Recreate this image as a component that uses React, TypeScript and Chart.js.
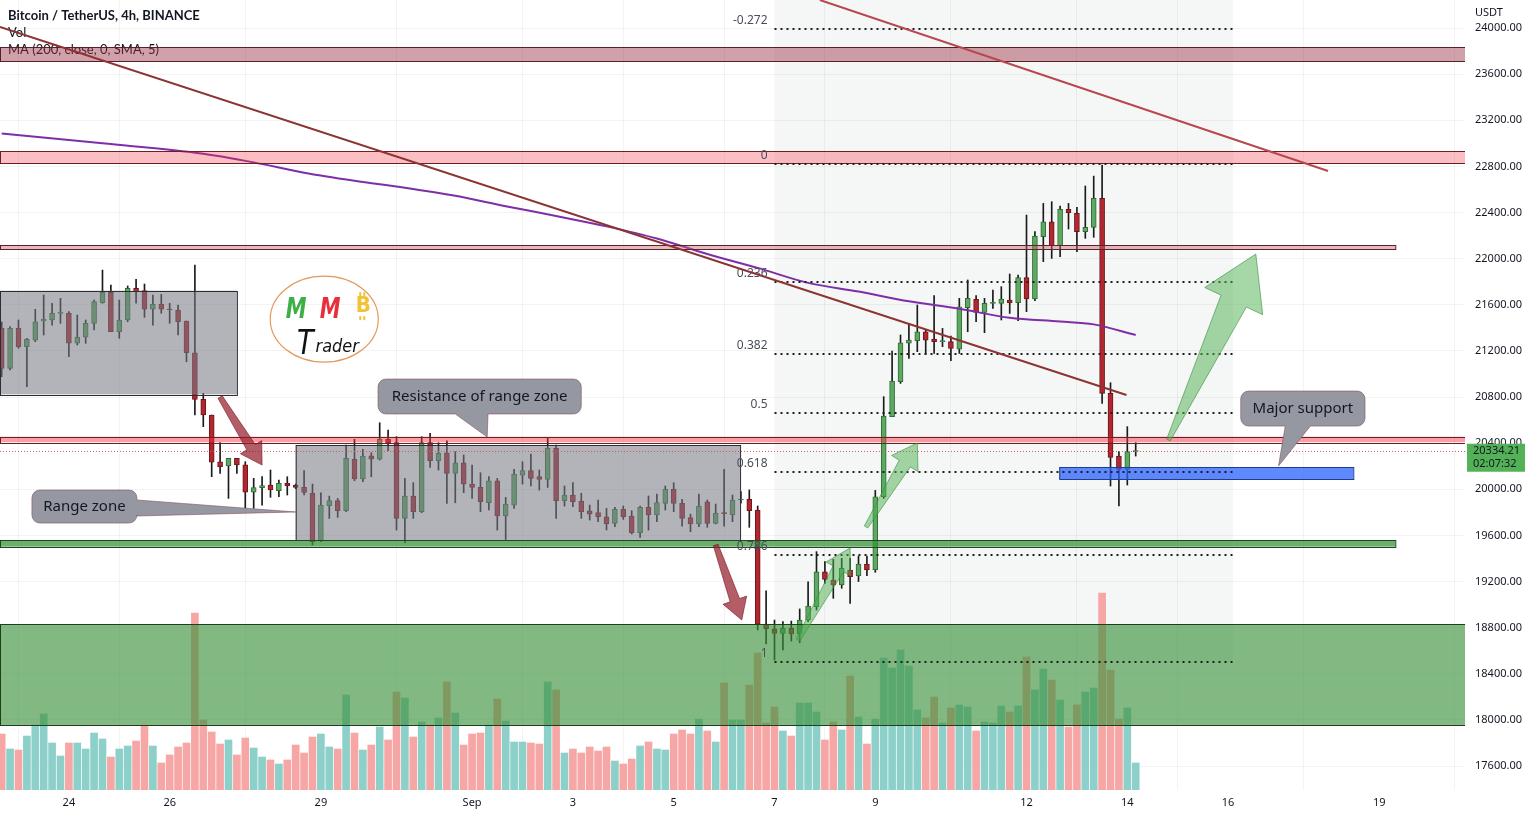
import React, { useEffect, useRef } from 'react';
import { Chart, registerables } from 'chart.js';
Chart.register(...registerables);

// ---------- data (4h candles, index 0 = Aug 22 16:00) ----------
const OPEN = [21396,21049,21396,21237,21294,21460,21468,21526,21526,21266,21318,21439,21618,21708,21367,21468,21742,21722,21561,21607,21561,21555,21459,21184,20780,20644,20239,20202,20268,20211,19974,20014,20037,19988,20051,20037,20016,19964,19551,19857,19901,19814,20259,20089,20291,20262,20433,20404,19747,19941,19805,20404,20248,20317,20138,20230,20045,20016,19883,20074,19768,19863,20123,20161,20109,20086,20355,19901,19950,19898,19814,19797,19762,19704,19826,19768,19623,19843,19777,19878,19999,19878,19754,19699,19892,19704,19793,19777,19907,19913,19820,18831,18790,18750,18794,18745,18866,18982,19285,19213,19170,19300,19248,19352,19300,19935,20629,20933,21266,21288,21366,21303,21280,21280,21216,21575,21647,21534,21612,21612,21641,21618,21835,21650,22190,22320,22112,22427,22393,22234,22271,22523,20831,20288,20172,20326];
const HIGH = [21450,21410,21468,21310,21561,21685,21613,21656,21540,21511,21468,21641,21901,21771,21641,21763,21821,21780,21685,21690,21613,21598,21459,21945,20832,20644,20404,20268,20268,20239,20095,20109,20167,20080,20109,20045,20161,20045,19970,19941,19921,20383,20433,20346,20317,20577,20514,20456,20094,20057,20456,20485,20404,20421,20326,20297,20210,20143,20109,20094,19930,20172,20239,20305,20167,20441,20383,20028,20057,19965,19863,19907,19834,19843,19855,19814,19855,19942,19959,20028,20057,19913,19785,19959,19907,19872,20173,19950,19980,19994,19855,19120,18866,18852,18857,18962,19198,19459,19372,19392,19401,19401,19420,19420,19990,20803,21199,21338,21439,21598,21387,21679,21395,21329,21656,21815,21679,21656,21728,21757,21867,21858,22378,22234,22479,22494,22456,22479,22445,22630,22716,22812,20924,20326,20543,20404];
const LOW = [20976,21034,21222,20889,21280,21338,21424,21439,21150,21251,21266,21381,21613,21367,21309,21453,21613,21491,21424,21526,21439,21338,21106,20644,20543,20109,20138,19921,20138,19835,19835,19863,19930,19936,19950,20005,19950,19516,19545,19747,19756,19805,20074,20065,20109,20253,20334,19646,19536,19747,19797,20190,20167,19878,19883,19970,19921,19805,19820,19646,19565,19834,20045,20028,19993,20016,19747,19854,19849,19748,19733,19719,19647,19675,19739,19612,19583,19646,19719,19820,19806,19681,19632,19675,19670,19699,19681,19719,19880,19670,18780,18658,18520,18606,18684,18670,18852,18953,19184,19054,19141,19011,19200,19250,19280,19921,20629,20918,21135,21193,21173,21178,21236,21115,21178,21366,21453,21358,21569,21468,21525,21462,21540,21635,21974,22002,22017,22257,22060,22176,22185,20745,20028,19855,20037,20288];
const CLOSE = [21049,21396,21237,21300,21453,21475,21526,21532,21266,21318,21439,21627,21708,21367,21468,21742,21713,21561,21604,21561,21555,21453,21184,20780,20644,20234,20196,20268,20211,19974,20014,20031,19994,20052,20031,20016,19973,19545,19863,19901,19814,20268,20089,20288,20262,20433,20398,19747,19941,19805,20404,20248,20311,20138,20230,20045,20016,19892,20074,19768,19872,20132,20161,20094,20086,20355,19901,19950,19892,19806,19785,19762,19699,19826,19762,19623,19843,19777,19884,19999,19878,19748,19699,19855,19704,19791,19789,19907,19911,19814,18831,18790,18750,18794,18745,18866,18987,19285,19219,19170,19314,19242,19352,19300,19935,20635,20939,21271,21294,21366,21294,21280,21284,21222,21583,21656,21534,21612,21615,21650,21618,21835,21650,22196,22320,22112,22427,22398,22234,22271,22523,20831,20277,20172,20326,20334.21];
const VOLUME = [28000,20500,20000,27000,32500,38000,23500,17000,23500,23500,20500,28500,25500,16500,20500,22000,24500,32500,22000,13500,17500,21500,23500,88500,35000,29000,23000,25000,17500,26000,21000,16500,15000,13000,15000,22500,18500,26500,28000,21500,20500,47500,28500,20000,22500,31500,25000,49000,46000,26500,34000,32500,36000,54000,38500,22500,28000,28500,32500,45500,34500,24000,24000,23500,23000,54000,50000,18500,20500,18500,21500,19500,21500,14500,13000,15500,22000,24000,20500,20000,28000,30000,28000,35500,29500,24000,53500,35000,35000,52500,68500,33500,41500,29500,27000,43500,43500,39000,25000,34000,30000,57000,36500,23000,35500,66000,61000,70000,62000,40000,36000,46500,33500,41000,42500,41500,29500,34000,33500,42000,39000,42000,66500,50000,60500,55000,45000,31500,42500,49000,51000,98500,60000,35500,41000,13500];
const MA_INDEX = [0,12,24,30,36,42,48,54,60,66,72,78,84,90,96,102,108,114,120,126,130,135];
const MA_VALUE = [23085,23000,22910,22835,22745,22675,22615,22545,22455,22370,22280,22175,22040,21920,21790,21715,21630,21565,21487,21455,21430,21338];

const DAY_TICK_INDEX = [8,20,38,56,68,80,92,104,122,134,146,164];
const DAY_TICK_LABEL = ['24','26','29','Sep','3','5','7','9','12','14','16','19'];
const PRICE_TICKS = [17600,18000,18400,18800,19200,19600,20000,20400,20800,21200,21600,22000,22400,22800,23200,23600,24000];
const LAST_PRICE = 20334.21;
const LAST_TIMER = '02:07:32';

const FIB_LEVELS = [-0.272,0,0.236,0.382,0.5,0.618,0.786,1];
const FIB_LABELS = ['-0.272','0','0.236','0.382','0.5','0.618','0.786','1'];
const FIB_HIGH = 22821;
const FIB_LOW = 18502;
const FIB_FROM = 92;
const FIB_TO = 146.6;

const X_MIN = -0.2, X_MAX = 174.2, Y_MIN = 17392, Y_MAX = 24243;

// zones: [fromIdx, toIdx, highPrice, lowPrice]
const ZONE_TOP = [-0.2, 174.2, 23835, 23714];
const ZONE_22900 = [-0.2, 174.2, 22933, 22829];
const ZONE_22100 = [-0.2, 165.9, 22118, 22083];
const ZONE_20430 = [-0.2, 174.2, 20456, 20408];
const ZONE_19530 = [-0.2, 165.9, 19560, 19502];
const ZONE_DEMAND = [-0.2, 174.2, 18831, 17956];
const ZONE_SUPPORT = [125.9, 160.9, 20193, 20089];
const BOX_OLD_RANGE = [-0.2, 28, 21722, 20823];
const BOX_RANGE = [35, 87.9, 20384, 19560];

// trend lines: [idx1, price1, idx2, price2]
const TREND_1 = [-0.2, 24009, 133.9, 20817];
const TREND_2 = [97.4, 24243, 157.9, 22760];

// arrows: [tailIdx, tailPrice, tipIdx, tipPrice]
const ARROW_RED_1 = [26, 20800, 31, 20210];
const ARROW_RED_2 = [85, 19517, 88.1, 18866];
const ARROW_GREEN_1 = [94.8, 18693, 101, 19491];
const ARROW_GREEN_2 = [102.9, 19673, 109, 20401];
const ARROW_GREEN_3 = [138.9, 20427, 149.3, 22040];

const CALLOUT_TEXT = ['Resistance of range zone', 'Range zone', 'Major support'];
// [x0, x1, hi, lo, tipIdx, tipPrice, base1, base2]
const CALLOUT_BOX = [
  [44.8, 69, 20956, 20653, 57.8, 20453, 54, 57.9],
  [3.6, 16.1, 19994, 19707, 35, 19803, 19907, 19768],
  [147.5, 162.3, 20852, 20548, 152, 20202, 152.8, 155.8],
];
const CALLOUT_SIDE = ['bottom', 'right', 'bottom'];
const LOGO_AT = [38.4, 21475];

const FONT = '"Noto Sans", "Open Sans", sans-serif';

function fibPrice(l: number) { return FIB_HIGH - l * (FIB_HIGH - FIB_LOW); }

function drawArrow(ctx: any, x1: number, y1: number, x2: number, y2: number, tailW: number, neckW: number, headW: number, headL: number, fill: string, stroke: string) {
  const dx = x2 - x1, dy = y2 - y1; const len = Math.hypot(dx, dy);
  const ux = dx / len, uy = dy / len; const nx = -uy, ny = ux;
  const px = x2 - ux * headL, py = y2 - uy * headL;
  ctx.beginPath();
  ctx.moveTo(x1 + nx * tailW / 2, y1 + ny * tailW / 2);
  ctx.lineTo(px + nx * neckW / 2, py + ny * neckW / 2);
  ctx.lineTo(px + nx * headW / 2, py + ny * headW / 2);
  ctx.lineTo(x2, y2);
  ctx.lineTo(px - nx * headW / 2, py - ny * headW / 2);
  ctx.lineTo(px - nx * neckW / 2, py - ny * neckW / 2);
  ctx.lineTo(x1 - nx * tailW / 2, y1 - ny * tailW / 2);
  ctx.closePath();
  ctx.fillStyle = fill; ctx.fill();
  ctx.strokeStyle = stroke; ctx.lineWidth = 1; ctx.stroke();
}

function roundCallout(ctx: any, x0: number, y0: number, x1: number, y1: number, r: number, side: string, b1: number, b2: number, tx: number, ty: number) {
  ctx.beginPath();
  ctx.moveTo(x0 + r, y0);
  ctx.lineTo(x1 - r, y0);
  ctx.arcTo(x1, y0, x1, y0 + r, r);
  if (side === 'right') { ctx.lineTo(x1, Math.min(b1, b2)); ctx.lineTo(tx, ty); ctx.lineTo(x1, Math.max(b1, b2)); }
  ctx.lineTo(x1, y1 - r);
  ctx.arcTo(x1, y1, x1 - r, y1, r);
  if (side === 'bottom') { ctx.lineTo(Math.max(b1, b2), y1); ctx.lineTo(tx, ty); ctx.lineTo(Math.min(b1, b2), y1); }
  ctx.lineTo(x0 + r, y1);
  ctx.arcTo(x0, y1, x0, y1 - r, r);
  ctx.lineTo(x0, y0 + r);
  ctx.arcTo(x0, y0, x0 + r, y0, r);
  ctx.closePath();
}

const overlay = {
  id: 'overlay',
  beforeDatasetsDraw(chart: any) {
    const { ctx, chartArea: a, scales } = chart;
    const x = scales.x, y = scales.y;
    ctx.save();
    const fx0 = x.getPixelForValue(FIB_FROM), fx1 = x.getPixelForValue(FIB_TO);
    const fy1 = y.getPixelForValue(fibPrice(1));
    ctx.fillStyle = 'rgba(120,123,134,0.07)';
    ctx.fillRect(fx0, a.top, fx1 - fx0, fy1 - a.top);
    ctx.fillStyle = '#131722';
    ctx.textBaseline = 'middle'; ctx.textAlign = 'left';
    ctx.font = 'bold 13px Lato, ' + FONT;
    ctx.fillText('Bitcoin / TetherUS, 4h, BINANCE', 8, 16);
    ctx.font = '13px Lato, ' + FONT;
    ctx.fillText('Vol', 8, 33);
    ctx.fillText('MA (200, close, 0, SMA, 5)', 8, 50);
    ctx.restore();
  },
  afterDatasetsDraw(chart: any) {
    const { ctx, chartArea: a, scales } = chart;
    const x = scales.x, y = scales.y;
    const X = (v: number) => x.getPixelForValue(v);
    const Y = (v: number) => y.getPixelForValue(v);
    ctx.save();
    ctx.beginPath(); ctx.rect(a.left, a.top, a.right - a.left, a.bottom - a.top); ctx.clip();
    const rect = (z: number[], fill: string, stroke: string) => {
      const x0 = X(z[0]), x1 = X(z[1]), y0 = Y(z[2]), y1 = Y(z[3]);
      ctx.fillStyle = fill; ctx.fillRect(x0, y0, x1 - x0, y1 - y0);
      ctx.strokeStyle = stroke; ctx.lineWidth = 1; ctx.strokeRect(x0 + 0.5, Math.round(y0) + 0.5, x1 - x0, Math.round(y1 - y0));
    };
    rect(BOX_OLD_RANGE, 'rgba(120,123,134,0.57)', '#2b2d33');
    rect(BOX_RANGE, 'rgba(120,123,134,0.57)', '#2b2d33');
    rect(ZONE_TOP, 'rgba(150,40,60,0.44)', '#5a1e24');
    rect(ZONE_22900, 'rgba(242,54,69,0.32)', '#6e1f26');
    rect(ZONE_22100, 'rgba(200,100,110,0.45)', '#5a2328');
    rect(ZONE_20430, 'rgba(242,54,69,0.47)', '#6e1f26');
    rect(ZONE_19530, 'rgba(60,145,60,0.75)', '#1d4a1d');
    rect(ZONE_DEMAND, 'rgba(60,145,60,0.64)', '#1d3f1d');
    rect(ZONE_SUPPORT, 'rgba(41,98,255,0.75)', '#1f3d8f');

    // fib levels
    const fx0 = X(FIB_FROM), fx1 = X(FIB_TO);
    ctx.setLineDash([2, 4]); ctx.lineWidth = 2; ctx.strokeStyle = '#1e1e1e';
    FIB_LEVELS.forEach((l) => {
      const yy = Math.round(Y(fibPrice(l)));
      ctx.beginPath(); ctx.moveTo(fx0, yy); ctx.lineTo(fx1, yy); ctx.stroke();
    });
    ctx.setLineDash([]);
    ctx.fillStyle = '#4a4e59'; ctx.font = '12px ' + FONT; ctx.textAlign = 'right'; ctx.textBaseline = 'alphabetic';
    FIB_LEVELS.forEach((l, i) => {
      ctx.fillText(FIB_LABELS[i], fx0 - 7, Y(fibPrice(l)) - 5);
    });

    // last price dotted line
    ctx.setLineDash([1, 2]); ctx.lineWidth = 1; ctx.strokeStyle = '#e0535a';
    const ly = Math.round(Y(LAST_PRICE)) + 0.5;
    ctx.beginPath(); ctx.moveTo(a.left, ly); ctx.lineTo(a.right, ly); ctx.stroke();
    ctx.setLineDash([]);

    // trend lines
    ctx.lineWidth = 2;
    ctx.strokeStyle = '#8c3434';
    ctx.beginPath(); ctx.moveTo(X(TREND_1[0]), Y(TREND_1[1])); ctx.lineTo(X(TREND_1[2]), Y(TREND_1[3])); ctx.stroke();
    ctx.strokeStyle = '#b8474f';
    ctx.beginPath(); ctx.moveTo(X(TREND_2[0]), Y(TREND_2[1])); ctx.lineTo(X(TREND_2[2]), Y(TREND_2[3])); ctx.stroke();

    // arrows
    const arr = (d: number[], tw: number, nw: number, hw: number, hl: number, f: string, s: string) =>
      drawArrow(ctx, X(d[0]), Y(d[1]), X(d[2]), Y(d[3]), tw, nw, hw, hl, f, s);
    arr(ARROW_RED_1, 5, 10, 25, 21, 'rgba(150,30,45,0.72)', 'rgba(120,20,35,0.6)');
    arr(ARROW_RED_2, 5, 10, 25, 21, 'rgba(150,30,45,0.72)', 'rgba(120,20,35,0.6)');
    arr(ARROW_GREEN_1, 4, 12, 28, 24, 'rgba(76,175,80,0.5)', 'rgba(56,142,60,0.6)');
    arr(ARROW_GREEN_2, 4, 13, 31, 24, 'rgba(76,175,80,0.5)', 'rgba(56,142,60,0.6)');
    arr(ARROW_GREEN_3, 4, 28, 64, 52, 'rgba(76,175,80,0.5)', 'rgba(56,142,60,0.6)');

    // callouts
    CALLOUT_BOX.forEach((c, i) => {
      const side = CALLOUT_SIDE[i];
      const x0 = X(c[0]), x1 = X(c[1]), y0 = Y(c[2]), y1 = Y(c[3]);
      const tx = X(c[4]), ty = Y(c[5]);
      const b1 = side === 'bottom' ? X(c[6]) : Y(c[6]);
      const b2 = side === 'bottom' ? X(c[7]) : Y(c[7]);
      roundCallout(ctx, x0, y0, x1, y1, 8, side, b1, b2, tx, ty);
      ctx.fillStyle = '#9598a1'; ctx.fill();
      ctx.strokeStyle = 'rgba(130,70,85,0.55)'; ctx.lineWidth = 1; ctx.stroke();
      ctx.fillStyle = '#131722'; ctx.font = '15px ' + FONT; ctx.textAlign = 'center'; ctx.textBaseline = 'middle';
      ctx.fillText(CALLOUT_TEXT[i], (x0 + x1) / 2, (y0 + y1) / 2);
    });

    // logo
    const cx = X(LOGO_AT[0]), cy = Y(LOGO_AT[1]);
    ctx.beginPath(); ctx.ellipse(cx, cy, 54, 43, 0, 0, Math.PI * 2);
    ctx.strokeStyle = '#e39a5c'; ctx.lineWidth = 1.2; ctx.stroke();
    ctx.textAlign = 'center'; ctx.textBaseline = 'middle';
    const letter = (t: string, px: number, py: number, font: string, color: string, sx: number) => {
      ctx.save(); ctx.translate(px, py); ctx.scale(sx, 1); ctx.font = font; ctx.fillStyle = color; ctx.fillText(t, 0, 0); ctx.restore();
    };
    letter('M', cx - 28, cy - 9, 'italic bold 29px "DejaVu Sans"', '#3daf46', 0.72);
    letter('M', cx + 6, cy - 9, 'italic bold 29px "DejaVu Sans"', '#e8303b', 0.72);
    letter('B', cx + 39, cy - 13, 'bold 22px "DejaVu Sans"', '#f1c232', 0.9);
    ctx.fillStyle = '#f1c232';
    ctx.fillRect(cx + 35, cy - 27, 2, 4); ctx.fillRect(cx + 39, cy - 27, 2, 4);
    ctx.fillRect(cx + 35, cy - 3, 2, 4); ctx.fillRect(cx + 39, cy - 3, 2, 4);
    letter('T', cx - 19, cy + 26, 'italic 34px "DejaVu Sans"', '#111111', 0.8);
    letter('rader', cx + 13, cy + 28, 'italic 17px "DejaVu Sans"', '#111111', 0.95);
    ctx.restore();
  },
  afterDraw(chart: any) {
    const { ctx, chartArea: a, scales } = chart;
    const y = scales.y;
    ctx.save();
    ctx.fillStyle = '#ffffff';
    ctx.fillRect(a.right + 1, 0, chart.width - a.right, 23);
    ctx.fillStyle = '#131722'; ctx.font = '11px ' + FONT; ctx.textAlign = 'left'; ctx.textBaseline = 'middle';
    ctx.fillText('USDT', a.right + 10, 13);
    const py = y.getPixelForValue(LAST_PRICE);
    ctx.fillStyle = '#53b257';
    ctx.fillRect(a.right + 2, py - 7, 58, 28);
    ctx.fillStyle = '#131722';
    ctx.fillText(LAST_PRICE.toFixed(2), a.right + 8, py);
    ctx.fillText(LAST_TIMER, a.right + 8, py + 13);
    ctx.restore();
  },
};

export default function App() {
  const ref = useRef<HTMLCanvasElement>(null);
  useEffect(() => {
    document.body.style.margin = '0';
    const canvas = ref.current as HTMLCanvasElement;
    const idx = OPEN.map((_, i) => i);
    const up = idx.map((i) => CLOSE[i] >= OPEN[i]);
    const chart = new Chart(canvas, {
      type: 'bar',
      data: {
        datasets: [
          {
            type: 'line',
            data: MA_INDEX.map((v, i) => ({ x: v, y: MA_VALUE[i] })),
            borderColor: '#7e2fa8', borderWidth: 2, pointRadius: 0,
            cubicInterpolationMode: 'monotone', yAxisID: 'y', order: 1,
          } as any,
          {
            data: idx.map((i) => ({ x: i, y: [OPEN[i], CLOSE[i]] })),
            backgroundColor: idx.map((i) => (up[i] ? '#5da862' : '#b2262f')),
            borderColor: idx.map((i) => (up[i] ? '#2f6b33' : '#6e151b')),
            borderWidth: 1, borderSkipped: false, barThickness: 5, minBarLength: 1,
            grouped: false, yAxisID: 'y', order: 2,
          } as any,
          {
            data: idx.map((i) => ({ x: i, y: [LOW[i], HIGH[i]] })),
            backgroundColor: '#1b1b1b', barThickness: 1, grouped: false, yAxisID: 'y', order: 3,
          } as any,
          {
            data: idx.map((i) => ({ x: i, y: VOLUME[i] })),
            backgroundColor: idx.map((i) => (up[i] ? '#8dd0c9' : '#f6a6a4')),
            barThickness: 7, grouped: false, yAxisID: 'yv', order: 4,
          } as any,
        ],
      },
      options: {
        animation: false,
        responsive: false,
        devicePixelRatio: 1,
        layout: { padding: 0 },
        plugins: { legend: { display: false }, tooltip: { enabled: false } },
        scales: {
          x: {
            type: 'linear', min: X_MIN, max: X_MAX, offset: false,
            afterBuildTicks: (s: any) => { s.ticks = DAY_TICK_INDEX.map((v) => ({ value: v })); },
            afterFit: (s: any) => { s.height = 28; s.paddingLeft = 0; s.paddingRight = 0; },
            ticks: {
              autoSkip: false, maxRotation: 0, padding: 6, color: '#131722', font: { family: FONT, size: 11 },
              callback: (v: any) => DAY_TICK_LABEL[DAY_TICK_INDEX.indexOf(v)] ?? '',
            },
            grid: { color: 'rgba(42,46,57,0.06)', drawTicks: false },
            border: { display: false },
          },
          y: {
            type: 'linear', position: 'right', min: Y_MIN, max: Y_MAX,
            afterBuildTicks: (s: any) => { s.ticks = PRICE_TICKS.map((v) => ({ value: v })); },
            afterFit: (s: any) => { s.width = 69; s.paddingTop = 0; s.paddingBottom = 0; },
            ticks: { padding: 10, color: '#131722', font: { family: FONT, size: 11 }, callback: (v: any) => Number(v).toFixed(2) },
            grid: { color: 'rgba(42,46,57,0.06)', drawTicks: false },
            border: { display: false },
          },
          yv: { type: 'linear', display: false, min: 0, max: 395000 },
        },
      } as any,
      plugins: [overlay],
    });
    return () => chart.destroy();
  }, []);
  return <canvas ref={ref} width={1534} height={818} style={{ display: 'block', width: 1534, height: 818 }} />;
}
